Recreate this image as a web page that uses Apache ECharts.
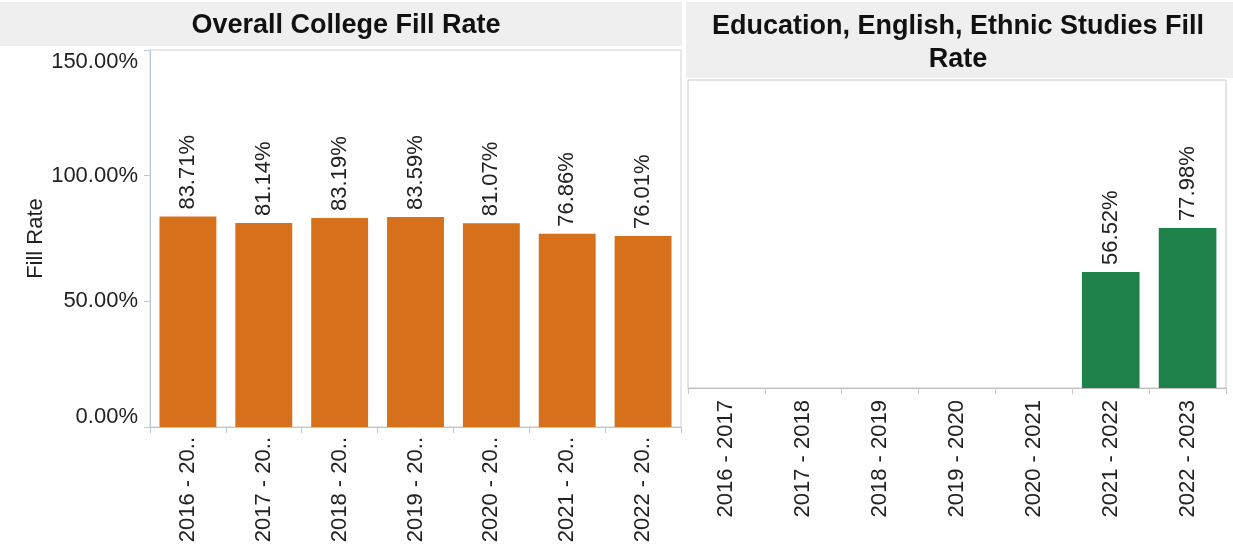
<!DOCTYPE html>
<html>
<head>
<meta charset="utf-8">
<script src="https://cdn.jsdelivr.net/npm/echarts@6/dist/echarts.min.js"></script>
<style>
  html, body { margin: 0; padding: 0; background: #ffffff; }
  #chart { width: 1233px; height: 554px; }
</style>
</head>
<body>
<div id="chart"></div>
<script>
// Academic years shown on both panels
const years = ['2016 - 2017', '2017 - 2018', '2018 - 2019', '2019 - 2020', '2020 - 2021', '2021 - 2022', '2022 - 2023'];
// Overall college fill rate (%)
const collegeFill = [83.71, 81.14, 83.19, 83.59, 81.07, 76.86, 76.01];
// Education, English, Ethnic Studies fill rate (%), no sections before 2021
const deptFill = [null, null, null, null, null, 56.52, 77.98];
// Y-axis ticks (%)
const yTicks = [0, 50, 100, 150];

const FONT = '"Liberation Sans", Arial, sans-serif';
const ORANGE = '#d6701b';
const GREEN = '#1f814a';
const yMin = yTicks[0];
const yMax = yTicks[yTicks.length - 1];

const chart = echarts.init(document.getElementById('chart'));

const barLabel = {
  show: true,
  position: 'top',
  rotate: 90,
  align: 'left',
  verticalAlign: 'middle',
  distance: 7,
  fontFamily: FONT,
  fontSize: 22,
  color: '#222',
  formatter: p => p.value == null ? '' : p.value.toFixed(2) + '%'
};

// End labels are nudged inward so they stay within the plot height
function yLabel(v) {
  const t = v.toFixed(2) + '%';
  if (v === yMax) return '{top|' + t + '}';
  if (v === yMin) return '{bot|' + t + '}';
  return t;
}
const yRich = {
  top: { fontSize: 22, color: '#222', fontFamily: FONT, padding: [24, 0, 0, 0] },
  bot: { fontSize: 22, color: '#222', fontFamily: FONT, padding: [0, 0, 20, 0] }
};

chart.setOption({
  animation: false,
  backgroundColor: '#ffffff',
  textStyle: { fontFamily: FONT },
  graphic: [
    { type: 'rect', shape: { x: 0, y: 2, width: 682, height: 44 }, style: { fill: '#efefef' }, z: -10 },
    { type: 'rect', shape: { x: 686, y: 2, width: 547, height: 76 }, style: { fill: '#efefef' }, z: -10 }
  ],
  title: [
    {
      text: 'Overall College Fill Rate',
      left: 341, top: 7, textAlign: 'center',
      textStyle: { fontFamily: FONT, fontSize: 27, fontWeight: 'bold', color: '#111' }
    },
    {
      text: 'Education, English, Ethnic Studies Fill\nRate',
      left: 953, top: 5, textAlign: 'center',
      textStyle: { fontFamily: FONT, fontSize: 27, fontWeight: 'bold', color: '#111', lineHeight: 33, align: 'center' }
    }
  ],
  grid: [
    { left: 150, top: 50, width: 531, height: 377, show: true, borderColor: '#cfcfcf', borderWidth: 1, backgroundColor: '#fff' },
    { left: 688, top: 80, width: 538, height: 308, show: true, borderColor: '#c8c8c8', borderWidth: 1, backgroundColor: '#fff' }
  ],
  xAxis: [
    {
      type: 'category', gridIndex: 0, data: years,
      axisLine: { lineStyle: { color: '#b9c7d8' } },
      axisTick: { show: true, alignWithLabel: false, length: 6, lineStyle: { color: '#b9c7d8' } },
      axisLabel: {
        rotate: 90, interval: 0, margin: 10, fontSize: 22, color: '#222', fontFamily: FONT,
        formatter: v => v.slice(0, 9) + '..'
      }
    },
    {
      type: 'category', gridIndex: 1, data: years,
      axisLine: { lineStyle: { color: '#bdbdbd' } },
      axisTick: { show: true, length: 6, lineStyle: { color: '#c8c8c8' } },
      axisLabel: { rotate: 90, interval: 0, margin: 12, fontSize: 22, color: '#222', fontFamily: FONT }
    }
  ],
  yAxis: [
    {
      type: 'value', gridIndex: 0, min: yMin, max: yMax, interval: 50,
      name: 'Fill Rate', nameLocation: 'middle', nameGap: 102, nameRotate: 90,
      nameTextStyle: { fontSize: 22, color: '#222', fontFamily: FONT },
      axisLine: { show: true, lineStyle: { color: '#b9c7d8' } },
      axisTick: { show: true, length: 6, lineStyle: { color: '#b9c7d8' } },
      splitLine: { show: false },
      axisLabel: { fontSize: 22, color: '#222', fontFamily: FONT, margin: 12, formatter: yLabel, rich: yRich }
    },
    {
      type: 'value', gridIndex: 1, min: yMin, max: yMax, interval: 50,
      axisLine: { show: false }, axisTick: { show: false }, axisLabel: { show: false }, splitLine: { show: false }
    }
  ],
  series: [
    {
      type: 'bar', xAxisIndex: 0, yAxisIndex: 0, data: collegeFill,
      barCategoryGap: '25%',
      itemStyle: { color: ORANGE },
      label: barLabel
    },
    {
      type: 'bar', xAxisIndex: 1, yAxisIndex: 1, data: deptFill,
      barCategoryGap: '25%',
      itemStyle: { color: GREEN },
      label: barLabel
    }
  ]
});
</script>
</body>
</html>
